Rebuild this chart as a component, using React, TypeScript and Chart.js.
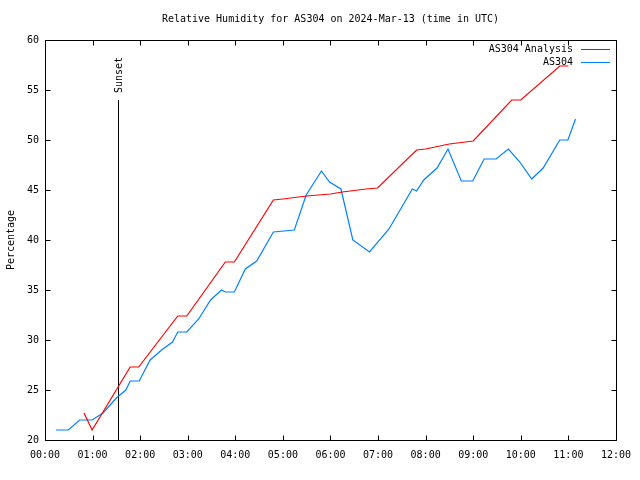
import React, { useEffect, useRef } from "react";
import { Chart, registerables } from "chart.js";

Chart.register(...registerables);

const FONT_FAMILY = "'DejaVu Sans Mono', 'Liberation Mono', monospace";
const titleText = "Relative Humidity for AS304 on 2024-Mar-13 (time in UTC)";
const yAxisLabel = "Percentage";
const xTickLabels = ["00:00", "01:00", "02:00", "03:00", "04:00", "05:00", "06:00", "07:00", "08:00", "09:00", "10:00", "11:00", "12:00"];
const legendLabels = ["AS304 Analysis", "AS304"];
const seriesColors = ["#ff0000", "rgb(0,128,255)"];

// times in hours (UTC)
const analysisTimes = [0.82, 0.99, 1.79, 1.97, 2.79, 2.98, 3.79, 3.98, 4.8, 5.0, 5.25, 5.5, 5.75, 6.0, 6.25, 6.5, 6.75, 6.99, 7.81, 8.0, 8.5, 9.0, 9.81, 10.0, 10.82, 11.0];
const analysisValues = [22.7, 21.0, 27.3, 27.3, 32.4, 32.4, 37.8, 37.8, 44.0, 44.1, 44.25, 44.4, 44.5, 44.6, 44.8, 44.95, 45.1, 45.2, 49.0, 49.1, 49.6, 49.9, 54.0, 54.0, 57.4, 57.4];

const obsTimes = [0.23, 0.49, 0.73, 0.99, 1.22, 1.5, 1.7, 1.79, 1.98, 2.21, 2.45, 2.68, 2.79, 2.98, 3.23, 3.48, 3.71, 3.79, 3.98, 4.21, 4.45, 4.8, 5.24, 5.49, 5.81, 5.98, 6.22, 6.47, 6.82, 7.23, 7.72, 7.81, 7.96, 8.24, 8.47, 8.75, 8.99, 9.23, 9.48, 9.74, 9.98, 10.23, 10.47, 10.82, 10.99, 11.15];
const obsValues = [21.0, 21.0, 22.0, 22.0, 22.7, 24.2, 25.0, 25.9, 25.9, 28.0, 29.0, 29.8, 30.8, 30.8, 32.1, 34.0, 35.0, 34.8, 34.8, 37.1, 37.9, 40.8, 41.0, 44.5, 46.9, 45.8, 45.1, 40.0, 38.8, 41.1, 45.1, 44.9, 46.0, 47.2, 49.1, 45.9, 45.9, 48.1, 48.1, 49.1, 47.8, 46.1, 47.2, 50.0, 50.0, 52.1];

const sunsetTime = 1.53;
const sunsetTop = 54;
const sunsetLabel = "Sunset";

const decorPlugin = {
  id: "gnuplotDecor",
  beforeDatasetsDraw(chart: any) {
    const ctx = chart.ctx;
    const xs = chart.scales.x;
    const ys = chart.scales.y;
    const x = Math.round(xs.getPixelForValue(sunsetTime)) + 0.5;
    const y0 = ys.getPixelForValue(20);
    const y1 = ys.getPixelForValue(sunsetTop);
    ctx.save();
    ctx.strokeStyle = "#000";
    ctx.lineWidth = 1;
    ctx.beginPath();
    ctx.moveTo(x, y0);
    ctx.lineTo(x, y1);
    ctx.stroke();
    ctx.translate(x + 1, y1 - 7);
    ctx.rotate(-Math.PI / 2);
    ctx.font = "10px " + FONT_FAMILY;
    ctx.fillStyle = "#000";
    ctx.textAlign = "left";
    ctx.textBaseline = "middle";
    ctx.fillText(sunsetLabel, 0, 0);
    ctx.restore();
  },
  afterDraw(chart: any) {
    const ctx = chart.ctx;
    const { left, right, top, bottom } = chart.chartArea;
    const xs = chart.scales.x;
    const ys = chart.scales.y;
    ctx.save();
    ctx.strokeStyle = "#000";
    ctx.lineWidth = 1;
    const L = Math.round(left) + 0.5;
    const R = Math.round(right) + 0.5;
    const T = Math.round(top) + 0.5;
    const B = Math.round(bottom) + 0.5;
    ctx.beginPath();
    ctx.rect(L, T, R - L, B - T);
    for (let h = 0; h <= 12; h++) {
      const px = Math.round(xs.getPixelForValue(h)) + 0.5;
      ctx.moveTo(px, B);
      ctx.lineTo(px, B - 5);
      ctx.moveTo(px, T);
      ctx.lineTo(px, T + 5);
    }
    for (let v = 20; v <= 60; v += 5) {
      const py = Math.round(ys.getPixelForValue(v)) + 0.5;
      ctx.moveTo(L, py);
      ctx.lineTo(L + 5, py);
      ctx.moveTo(R, py);
      ctx.lineTo(R - 5, py);
    }
    ctx.stroke();

    ctx.font = "10px " + FONT_FAMILY;
    ctx.fillStyle = "#000";
    ctx.textAlign = "center";
    ctx.textBaseline = "middle";
    ctx.fillText(titleText, (left + right) / 2, 19);

    ctx.save();
    ctx.translate(11, (top + bottom) / 2);
    ctx.rotate(-Math.PI / 2);
    ctx.fillText(yAxisLabel, 0, 0);
    ctx.restore();

    ctx.textAlign = "right";
    legendLabels.forEach((lab, i) => {
      const ly = 49 + i * 13;
      ctx.fillStyle = "#000";
      ctx.fillText(lab, 573, ly);
      ctx.strokeStyle = seriesColors[i];
      ctx.beginPath();
      ctx.moveTo(581, ly + 0.5);
      ctx.lineTo(610, ly + 0.5);
      ctx.stroke();
    });
    ctx.restore();
  },
};

export default function App() {
  const ref = useRef<HTMLCanvasElement | null>(null);
  useEffect(() => {
    document.body.style.margin = "0";
    const canvas = ref.current;
    if (!canvas) return;
    const chart = new Chart(canvas, {
      type: "line",
      data: {
        datasets: [
          {
            label: legendLabels[0],
            data: analysisTimes.map((t, i) => ({ x: t, y: analysisValues[i] })),
            borderColor: seriesColors[0],
            borderWidth: 1.2,
            pointRadius: 0,
            tension: 0,
            fill: false,
          },
          {
            label: legendLabels[1],
            data: obsTimes.map((t, i) => ({ x: t, y: obsValues[i] })),
            borderColor: seriesColors[1],
            borderWidth: 1.2,
            pointRadius: 0,
            tension: 0,
            fill: false,
          },
        ],
      },
      options: {
        responsive: false,
        animation: false,
        layout: { padding: { top: 40, right: 20, left: 0, bottom: 0 } },
        plugins: { legend: { display: false }, tooltip: { enabled: false }, title: { display: false } },
        scales: {
          x: {
            type: "linear",
            min: 0,
            max: 12,
            afterFit: (s: any) => { s.height = 40; },
            grid: { display: false, drawTicks: false },
            border: { display: false },
            ticks: {
              stepSize: 1,
              autoSkip: false,
              maxRotation: 0,
              padding: 9,
              color: "#000",
              font: { family: FONT_FAMILY, size: 10 },
              callback: (v: any) => xTickLabels[Math.round(Number(v))],
            },
          },
          y: {
            type: "linear",
            min: 20,
            max: 60,
            afterFit: (s: any) => { s.width = 45; },
            grid: { display: false, drawTicks: false },
            border: { display: false },
            ticks: {
              stepSize: 5,
              padding: 6,
              color: "#000",
              font: { family: FONT_FAMILY, size: 10 },
            },
          },
        },
      },
      plugins: [decorPlugin],
    } as any);
    return () => chart.destroy();
  }, []);
  return (
    <div style={{ position: "absolute", left: 0, top: 0, width: 640, height: 480, background: "#fff" }}>
      <canvas ref={ref} width={640} height={480} style={{ display: "block" }} />
    </div>
  );
}
